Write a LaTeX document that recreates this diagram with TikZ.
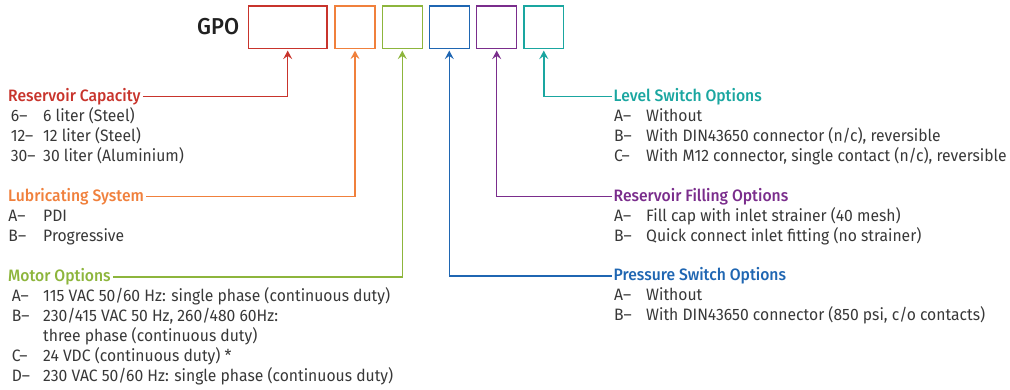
\documentclass[tikz,border=0pt]{standalone}
\usepackage{fontspec}
\setmainfont{Fira Sans}[FakeStretch=0.95]
\newfontfamily\headfont{Fira Sans}[FakeStretch=0.95,UprightFont=* Medium,BoldFont=* SemiBold]
\usetikzlibrary{arrows.meta}
\definecolor{cred}{HTML}{C8342C}
\definecolor{corange}{HTML}{F0803C}
\definecolor{cgreen}{HTML}{8DB53C}
\definecolor{cblue}{HTML}{1F66B2}
\definecolor{cpurple}{HTML}{7A2D8C}
\definecolor{cteal}{HTML}{1AA6A0}
\definecolor{ctext}{HTML}{383838}
\begin{document}
\begin{tikzpicture}[x=1pt,y=-1pt,
  codebox/.style={draw=#1,line width=1.5pt,minimum height=42.3pt,inner sep=0pt},
  head/.style={text=#1,anchor=base west,inner sep=0pt,font=\fontsize{16.5}{20}\headfont},
  item/.style={text=ctext,anchor=base west,inner sep=0pt,font=\fontsize{16.5}{20}\selectfont},
  conn/.style={draw=#1,line width=1.4pt,shorten >=1.5pt,-{Stealth[length=8.5pt,width=9pt,inset=3.2pt]}}]
\useasboundingbox (0,0) rectangle (1010,389);
% title and boxes
\node[anchor=base west,inner sep=0pt,text=black!87,font=\fontsize{23}{23}\headfont] (gpo) at (197,34.5) {GPO};
\node[codebox=cred,minimum width=78.7pt] (b1) at (287.7,27.2) {};
\node[codebox=corange,minimum width=40pt] (b2) at (355,27.2) {};
\node[codebox=cgreen,minimum width=40pt] (b3) at (402.3,27.2) {};
\node[codebox=cblue,minimum width=40pt] (b4) at (449.3,27.2) {};
\node[codebox=cpurple,minimum width=40pt] (b5) at (496.7,27.2) {};
\node[codebox=cteal,minimum width=39.7pt] (b6) at (543.8,27.2) {};
% left column
\node[head=cred] (h1) at (8,101) {Reservoir Capacity};
\node[item] (h1a) at (10.7,121) {6–};   \node[item] (h1at) at (43,121) {6 liter (Steel)};
\node[item] (h1b) at (10.7,141) {12–};  \node[item] (h1bt) at (43,141) {12 liter (Steel)};
\node[item] (h1c) at (10.7,161) {30–};  \node[item] (h1ct) at (43,161) {30 liter (Aluminium)};
\node[head=corange] (h2) at (8,201) {Lubricating System};
\node[item] (h2a) at (8.3,221) {A–};   \node[item] (h2at) at (43,221) {PDI};
\node[item] (h2b) at (8.3,241) {B–};   \node[item] (h2bt) at (43,241) {Progressive};
\node[head=cgreen] (h3) at (8,281.5) {Motor Options};
\node[item] (h3a) at (11.7,301.5) {A–}; \node[item] (h3at) at (43,301.5) {115 VAC 50/60 Hz: single phase (continuous duty)};
\node[item] (h3b) at (11.7,321.5) {B–}; \node[item] (h3bt) at (43,321.5) {230/415 VAC 50 Hz, 260/480 60Hz:};
\node[item] (h3bu) at (43,341.5) {three phase (continuous duty)};
\node[item] (h3c) at (11.7,361.5) {C–}; \node[item] (h3ct) at (43,361.5) {24 VDC (continuous duty) *};
\node[item] (h3d) at (11.7,381.5) {D–}; \node[item] (h3dt) at (43,381.5) {230 VAC 50/60 Hz: single phase (continuous duty)};
% right column
\node[head=cteal] (h6) at (613.5,101) {Level Switch Options};
\node[item] (h6a) at (614,121) {A–}; \node[item] (h6at) at (646,121) {Without};
\node[item] (h6b) at (614,141) {B–}; \node[item] (h6bt) at (646,141) {With DIN43650 connector (n/c), reversible};
\node[item] (h6c) at (614,161) {C–}; \node[item] (h6ct) at (646,161) {With M12 connector, single contact (n/c), reversible};
\node[head=cpurple] (h5) at (613.5,201) {Reservoir Filling Options};
\node[item] (h5a) at (614,221) {A–}; \node[item] (h5at) at (646,221) {Fill cap with inlet strainer (40 mesh)};
\node[item] (h5b) at (614,241) {B–}; \node[item] (h5bt) at (646,241) {Quick connect inlet fitting (no strainer)};
\node[head=cblue] (h4) at (613.5,280.5) {Pressure Switch Options};
\node[item] (h4a) at (614,300.5) {A–}; \node[item] (h4at) at (646,300.5) {Without};
\node[item] (h4b) at (614,320.5) {B–}; \node[item] (h4bt) at (646,320.5) {With DIN43650 connector (850 psi, c/o contacts)};
% connectors
\draw[conn=cred] ([shift={(2,-4.5)}]h1.base east) -| (b1.south);
\draw[conn=corange] ([shift={(2,-4.5)}]h2.base east) -| (b2.south);
\draw[conn=cgreen] ([shift={(2,-4.5)}]h3.base east) -| (b3.south);
\draw[conn=cblue] ([shift={(-2,-4.5)}]h4.base west) -| (b4.south);
\draw[conn=cpurple] ([shift={(-2,-4.5)}]h5.base west) -| (b5.south);
\draw[conn=cteal] ([shift={(-2,-4.5)}]h6.base west) -| (b6.south);
\end{tikzpicture}
\end{document}
